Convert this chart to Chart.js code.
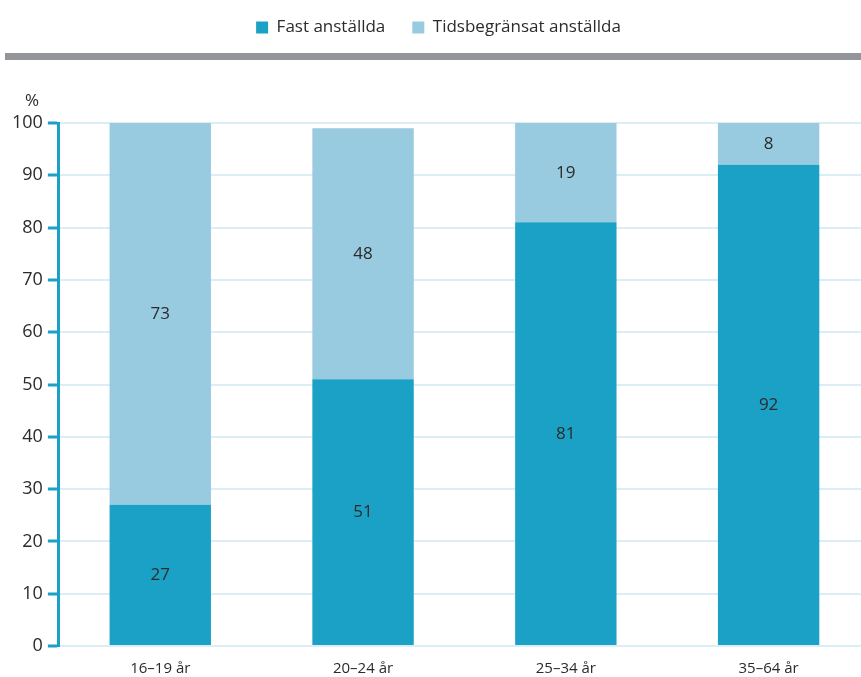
<!DOCTYPE html>
<html>
<head>
<meta charset="utf-8">
<script src="https://cdn.jsdelivr.net/npm/chart.js@4"></script>
<style>
  html, body { margin: 0; padding: 0; background: #fff; overflow: hidden; }
  #wrap { width: 870px; height: 684px; }
</style>
</head>
<body>
<div id="wrap"><canvas id="myChart"></canvas></div>
<script>
// chart data
var categories = ["16\u201319 år", "20\u201324 år", "25\u201334 år", "35\u201364 år"];
var fastValues = [27, 51, 81, 92];
var tidsValues = [73, 48, 19, 8];
var seriesNames = ["Fast anställda", "Tidsbegränsat anställda"];

var darkBlue = '#1ca1c6';
var lightBlue = '#98cae0';
var fontFam = "'Open Sans', 'Noto Sans', sans-serif";

// extra room under the legend (grey band lives there)
var legendGap = {
    id: 'legendGap',
    beforeInit: function (chart) {
        var fit = chart.legend.fit;
        chart.legend.fit = function () {
            fit.bind(chart.legend)();
            this.height += 77;
        };
    }
};

// labels in the middle of each segment, grey band and % sign
var extras = {
    id: 'extras',
    afterDatasetsDraw: function (chart) {
        var ctx = chart.ctx;
        ctx.save();
        ctx.font = '17px ' + fontFam;
        ctx.fillStyle = '#2b2b2b';
        ctx.textAlign = 'center';
        ctx.textBaseline = 'middle';
        chart.data.datasets.forEach(function (ds, i) {
            var meta = chart.getDatasetMeta(i);
            meta.data.forEach(function (bar, j) {
                var y = (bar.y + bar.base) / 2;
                ctx.fillText(String(ds.data[j]), bar.x, y);
            });
        });
        ctx.restore();
    },
    afterDraw: function (chart) {
        var ctx = chart.ctx;
        ctx.save();
        ctx.fillStyle = '#939598';
        ctx.fillRect(5, 53, 865, 7);
        ctx.font = '17px ' + fontFam;
        ctx.fillStyle = '#2b2b2b';
        ctx.textAlign = 'center';
        ctx.textBaseline = 'middle';
        ctx.fillText('%', 32, 101);
        ctx.restore();
    }
};

var ctx = document.getElementById("myChart");
var myChart = new Chart(ctx, {
    type: 'bar',
    data: {
        labels: categories,
        datasets: [{
                label: seriesNames[0],
                backgroundColor: darkBlue,
                data: fastValues
            }, {
                label: seriesNames[1],
                backgroundColor: lightBlue,
                data: tidsValues
            }
        ]
    },
    options: {
        responsive: true,
        maintainAspectRatio: false,
        animation: false,
        categoryPercentage: 1,
        barPercentage: 0.5,
        layout: { padding: { top: -8, right: 0, left: 7, bottom: 0 } },
        plugins: {
            legend: {
                position: 'top',
                labels: {
                    boxWidth: 12,
                    boxHeight: 12,
                    padding: 27,
                    color: '#2b2b2b',
                    font: { family: fontFam, size: 17 }
                }
            },
            tooltip: { enabled: false }
        },
        scales: {
            x: {
                stacked: true,
                grid: { display: false },
                border: { display: false },
                ticks: { color: '#2b2b2b', font: { family: fontFam, size: 15 }, padding: 6 }
            },
            y: {
                stacked: true,
                min: 0,
                max: 100,
                ticks: { stepSize: 10, color: '#2b2b2b', font: { family: fontFam, size: 18 }, padding: 5 },
                grid: {
                    color: '#dbeef5',
                    lineWidth: 2,
                    tickColor: darkBlue,
                    tickLength: 11,
                    tickWidth: 3
                },
                border: { color: darkBlue, width: 3 }
            }
        }
    },
    plugins: [legendGap, extras]
});
</script>
</body>
</html>
